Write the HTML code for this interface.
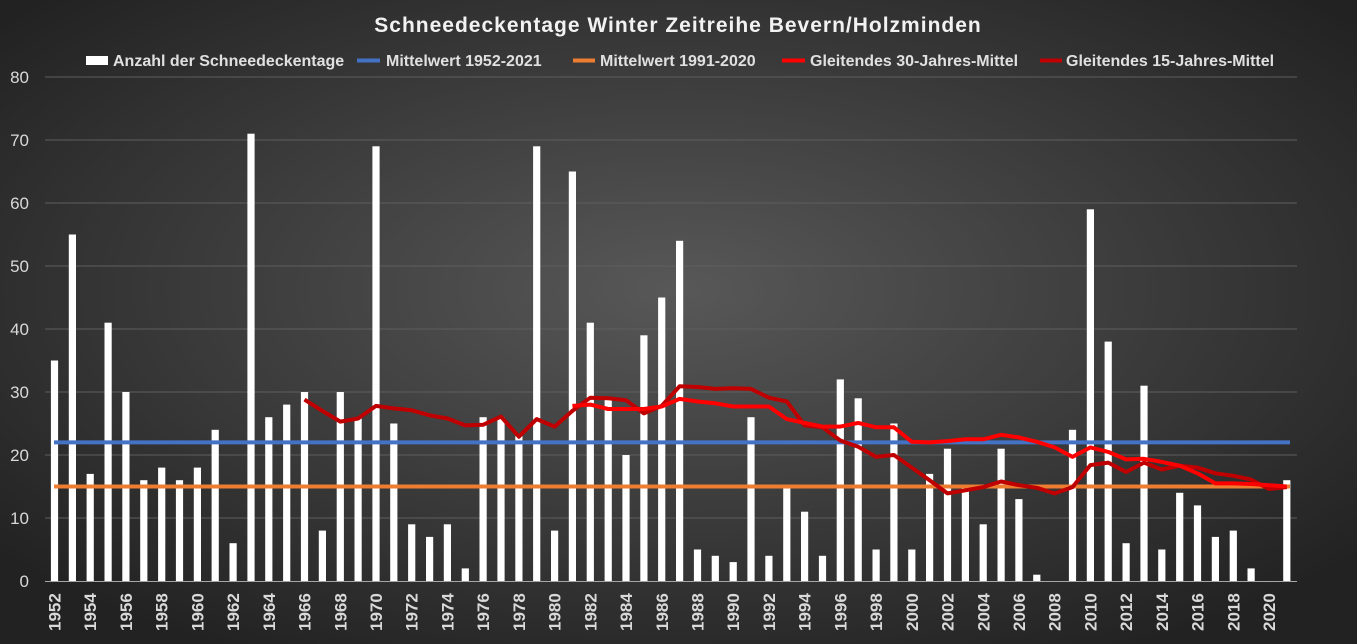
<!DOCTYPE html>
<html><head><meta charset="utf-8"><style>
html,body{margin:0;padding:0;background:#262626}
svg{display:block;font-family:"Liberation Sans",sans-serif}
</style></head><body>
<svg id="s" width="1357" height="644" viewBox="0 0 1357 644" xmlns="http://www.w3.org/2000/svg">
<defs><radialGradient id="bg" cx="50%" cy="45%" r="65%">
<stop offset="0" stop-color="#585858"/><stop offset="1" stop-color="#222"/></radialGradient></defs>
<rect width="1357" height="644" fill="url(#bg)"/>
<text x="678" y="32" text-anchor="middle" fill="#f2f2f2" font-size="21" font-weight="bold" letter-spacing="1">Schneedeckentage  Winter Zeitreihe Bevern/Holzminden</text>
<g font-size="16" font-weight="bold" fill="#e0e0e0">
<rect x="86" y="56" width="22" height="9" fill="#fff"/><text x="113" y="66">Anzahl der Schneedeckentage</text>
<line x1="357" y1="60.5" x2="380" y2="60.5" stroke="#4472c4" stroke-width="4"/><text x="386" y="66">Mittelwert 1952-2021</text>
<line x1="573" y1="60.5" x2="595" y2="60.5" stroke="#ed7d31" stroke-width="4"/><text x="600" y="66">Mittelwert 1991-2020</text>
<line x1="782" y1="60.5" x2="805" y2="60.5" stroke="#ff0000" stroke-width="4"/><text x="810" y="66">Gleitendes 30-Jahres-Mittel</text>
<line x1="1040" y1="60.5" x2="1062" y2="60.5" stroke="#c00000" stroke-width="4"/><text x="1066" y="66">Gleitendes 15-Jahres-Mittel</text>
</g>
<g stroke="#5e5e5e" stroke-width="1">
<line x1="45" x2="1297" y1="518" y2="518"/><line x1="45" x2="1297" y1="455" y2="455"/>
<line x1="45" x2="1297" y1="392" y2="392"/><line x1="45" x2="1297" y1="329" y2="329"/>
<line x1="45" x2="1297" y1="266" y2="266"/><line x1="45" x2="1297" y1="203" y2="203"/>
<line x1="45" x2="1297" y1="140" y2="140"/><line x1="45" x2="1297" y1="77" y2="77"/>
</g>
<g font-size="17" fill="#d9d9d9" text-anchor="end">
<text x="29" y="587">0</text><text x="29" y="524">10</text><text x="29" y="461">20</text><text x="29" y="398">30</text>
<text x="29" y="335">40</text><text x="29" y="272">50</text><text x="29" y="209">60</text><text x="29" y="146">70</text><text x="29" y="83">80</text>
</g>
<g id="bars" fill="#fff"></g>
<line x1="45" x2="1297" y1="581.5" y2="581.5" stroke="#a6a6a6" stroke-width="1"/>
<line x1="54" x2="1290" y1="442.4" y2="442.4" stroke="#4472c4" stroke-width="4"/>
<line x1="54" x2="1290" y1="486.5" y2="486.5" stroke="#ed7d31" stroke-width="4"/>
<polyline id="l15" fill="none" stroke="#c00000" stroke-width="4" stroke-linejoin="round"/>
<polyline id="l30" fill="none" stroke="#ff0000" stroke-width="4" stroke-linejoin="round"/>
<g font-size="17" font-weight="bold" fill="#d9d9d9">
<text transform="translate(60.5,631) rotate(-90)">1952</text>
<text transform="translate(96.2,631) rotate(-90)">1954</text>
<text transform="translate(131.9,631) rotate(-90)">1956</text>
<text transform="translate(167.7,631) rotate(-90)">1958</text>
<text transform="translate(203.4,631) rotate(-90)">1960</text>
<text transform="translate(239.1,631) rotate(-90)">1962</text>
<text transform="translate(274.8,631) rotate(-90)">1964</text>
<text transform="translate(310.5,631) rotate(-90)">1966</text>
<text transform="translate(346.3,631) rotate(-90)">1968</text>
<text transform="translate(382.0,631) rotate(-90)">1970</text>
<text transform="translate(417.7,631) rotate(-90)">1972</text>
<text transform="translate(453.4,631) rotate(-90)">1974</text>
<text transform="translate(489.2,631) rotate(-90)">1976</text>
<text transform="translate(524.9,631) rotate(-90)">1978</text>
<text transform="translate(560.6,631) rotate(-90)">1980</text>
<text transform="translate(596.3,631) rotate(-90)">1982</text>
<text transform="translate(632.0,631) rotate(-90)">1984</text>
<text transform="translate(667.8,631) rotate(-90)">1986</text>
<text transform="translate(703.5,631) rotate(-90)">1988</text>
<text transform="translate(739.2,631) rotate(-90)">1990</text>
<text transform="translate(774.9,631) rotate(-90)">1992</text>
<text transform="translate(810.7,631) rotate(-90)">1994</text>
<text transform="translate(846.4,631) rotate(-90)">1996</text>
<text transform="translate(882.1,631) rotate(-90)">1998</text>
<text transform="translate(917.8,631) rotate(-90)">2000</text>
<text transform="translate(953.5,631) rotate(-90)">2002</text>
<text transform="translate(989.3,631) rotate(-90)">2004</text>
<text transform="translate(1025.0,631) rotate(-90)">2006</text>
<text transform="translate(1060.7,631) rotate(-90)">2008</text>
<text transform="translate(1096.4,631) rotate(-90)">2010</text>
<text transform="translate(1132.2,631) rotate(-90)">2012</text>
<text transform="translate(1167.9,631) rotate(-90)">2014</text>
<text transform="translate(1203.6,631) rotate(-90)">2016</text>
<text transform="translate(1239.3,631) rotate(-90)">2018</text>
<text transform="translate(1275.0,631) rotate(-90)">2020</text>
</g>
</svg>
<script>
var v=[35,55,17,41,30,16,18,16,18,24,6,71,26,28,30,8,30,26,69,25,9,7,9,2,26,26,23,69,8,65,41,29,20,39,45,54,5,4,3,26,4,15,11,4,32,29,5,25,5,17,21,15,9,21,13,1,0,24,59,38,6,31,5,14,12,7,8,2,0,16];
var X=function(i){return 54.5+17.86*i},Y=function(a){return 581-6.3*a};
var g=document.getElementById('bars'),h='';
v.forEach(function(a,i){if(a>0)h+='<rect x="'+(X(i)-3.6).toFixed(1)+'" y="'+Y(a).toFixed(1)+'" width="7.2" height="'+(6.3*a).toFixed(1)+'"/>';});
g.innerHTML=h;
var m15=[28.8,27,25.3,25.8,27.8,27.4,27.1,26.3,25.8,24.7,24.8,26.1,22.9,25.7,24.5,27,29.1,29,28.7,26.6,27.8,30.9,30.8,30.5,30.6,30.5,29.1,28.5,24.7,24.4,22.3,21.3,19.7,20,18,16,13.9,14.4,14.9,15.8,15.2,14.8,13.9,14.9,18.4,18.8,17.3,18.8,17.7,18.3,18,17.1,16.7,16.1,14.6,14.9];
var m30=[27.8,28,27.3,27.3,27.3,27.7,28.9,28.5,28.2,27.7,27.7,27.7,25.7,25.1,24.5,24.5,25.1,24.4,24.4,22.1,22,22.2,22.5,22.5,23.2,22.8,22.1,21.2,19.7,21.2,20.5,19.3,19.4,18.9,18.3,17.1,15.5,15.5,15.4,15.2,15];
function pts(arr,s){return arr.map(function(a,k){return X(s+k).toFixed(1)+','+Y(a).toFixed(1)}).join(' ')}
document.getElementById('l15').setAttribute('points',pts(m15,14));
document.getElementById('l30').setAttribute('points',pts(m30,29));
</script>
</body></html>
